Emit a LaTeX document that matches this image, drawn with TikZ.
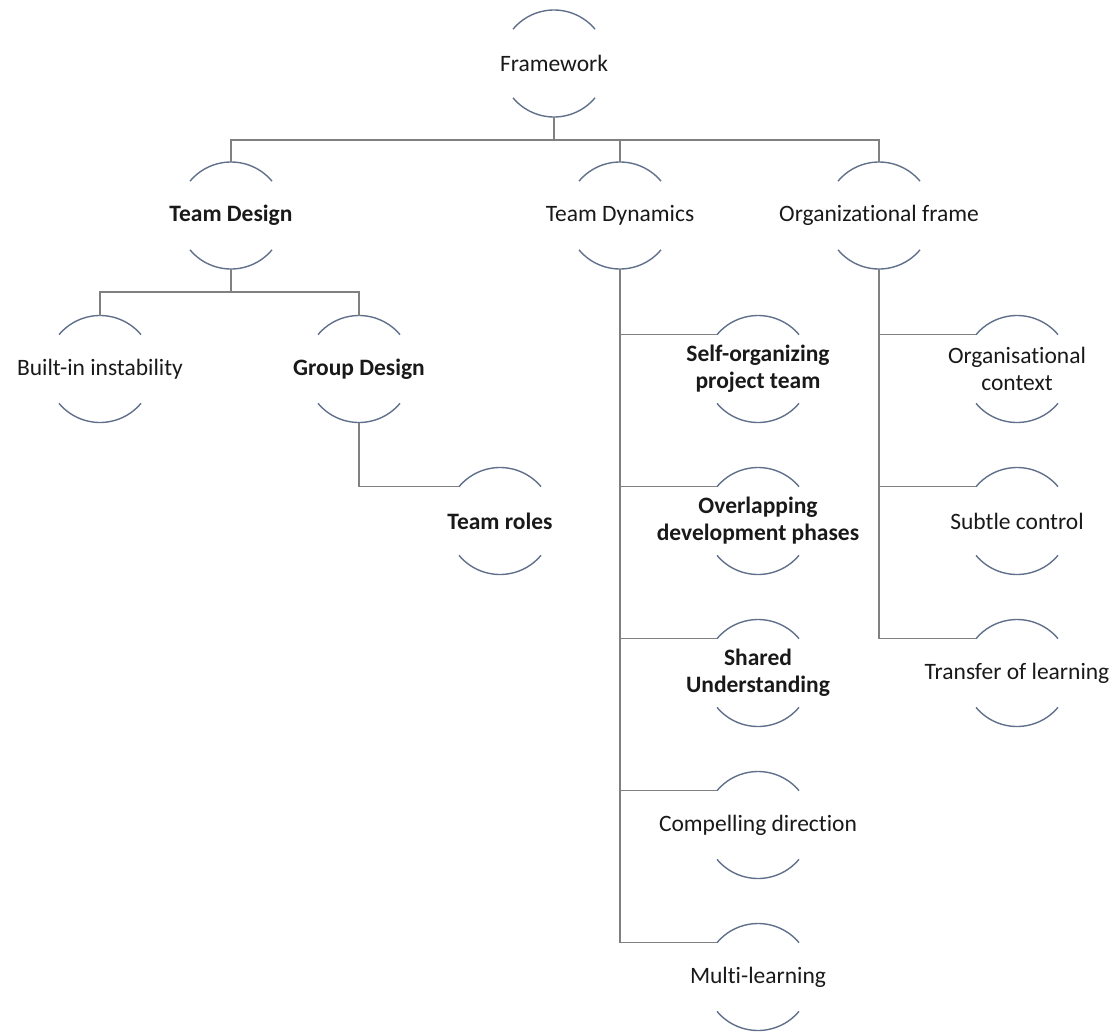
\documentclass[tikz,border=0pt]{standalone}
\usepackage{fontspec}
\setmainfont{Carlito}[Ligatures={NoCommon,NoRare,NoContextual}]
\usetikzlibrary{calc}
\definecolor{arccol}{RGB}{96,112,138}
\definecolor{conncol}{RGB}{128,128,128}
\definecolor{txtcol}{RGB}{25,25,25}
\tikzset{
  lbl/.style={inner sep=0pt, align=center, text=txtcol, font=\fontsize{23.5}{27}\selectfont},
  bl/.style={lbl, font=\fontsize{23.5}{27}\selectfont\bfseries},
  arcline/.style={draw=arccol, line width=1.4pt},
  conn/.style={draw=conncol, line width=1.4pt}
}
\newcommand\ringarcs[1]{%
  \draw[arcline] ([shift={(40:53.5)}]#1.center) arc[start angle=40,end angle=140,radius=53.5];
  \draw[arcline] ([shift={(220:53.5)}]#1.center) arc[start angle=220,end angle=320,radius=53.5];}
\begin{document}
\begin{tikzpicture}[x=1pt,y=1pt]
\useasboundingbox (0,0) rectangle (1119,-1034);
% nodes
\node[lbl] (fw) at (554,-63.5) {Framework};
\node[bl]  (tds) at (231,-215.5) {Team Design};
\node[lbl] (tdy) at (620,-215.5) {Team Dynamics};
\node[lbl] (orf) at (879,-215.5) {Organizational frame};
\node[lbl] (bii) at (100,-369) {Built-in instability};
\node[bl]  (gd)  at (359,-369) {Group Design};
\node[bl]  (tr)  at (500,-521) {Team roles};
\node[bl]  (sop) at (758,-369) {Self-organizing\\project team};
\node[bl]  (odp) at (758,-521) {Overlapping\\development phases};
\node[bl]  (su)  at (758,-673) {Shared\\Understanding};
\node[lbl] (cd)  at (758,-825) {Compelling direction};
\node[lbl] (ml)  at (758,-977) {Multi-learning};
\node[lbl] (oc)  at (1017,-369) {Organisational\\context};
\node[lbl] (sc)  at (1017,-521) {Subtle control};
\node[lbl] (tol) at (1017,-673) {Transfer of learning};
% arcs
\foreach \n in {fw,tds,tdy,orf,bii,gd,tr,sop,odp,su,cd,ml,oc,sc,tol}{\ringarcs{\n}}
% connectors
\draw[conn] ([yshift=-53.5pt]fw.center) -- ++(0,-23) -| ([yshift=53.5pt]tds.center);
\draw[conn] ([yshift=-53.5pt]fw.center) -- ++(0,-23) -| ([yshift=53.5pt]tdy.center);
\draw[conn] ([yshift=-53.5pt]fw.center) -- ++(0,-23) -| ([yshift=53.5pt]orf.center);
\draw[conn] ([yshift=-53.5pt]tds.center) -- ++(0,-23) -| ([yshift=53.5pt]bii.center);
\draw[conn] ([yshift=-53.5pt]tds.center) -- ++(0,-23) -| ([yshift=53.5pt]gd.center);
\draw[conn] ([yshift=-53.5pt]gd.center) |- ([shift={(140:53.5)}]tr.center);
\foreach \c in {sop,odp,su,cd,ml}{
  \draw[conn] ([yshift=-53.5pt]tdy.center) |- ([shift={(140:53.5)}]\c.center);}
\foreach \c in {oc,sc,tol}{
  \draw[conn] ([yshift=-53.5pt]orf.center) |- ([shift={(140:53.5)}]\c.center);}
\end{tikzpicture}
\end{document}
